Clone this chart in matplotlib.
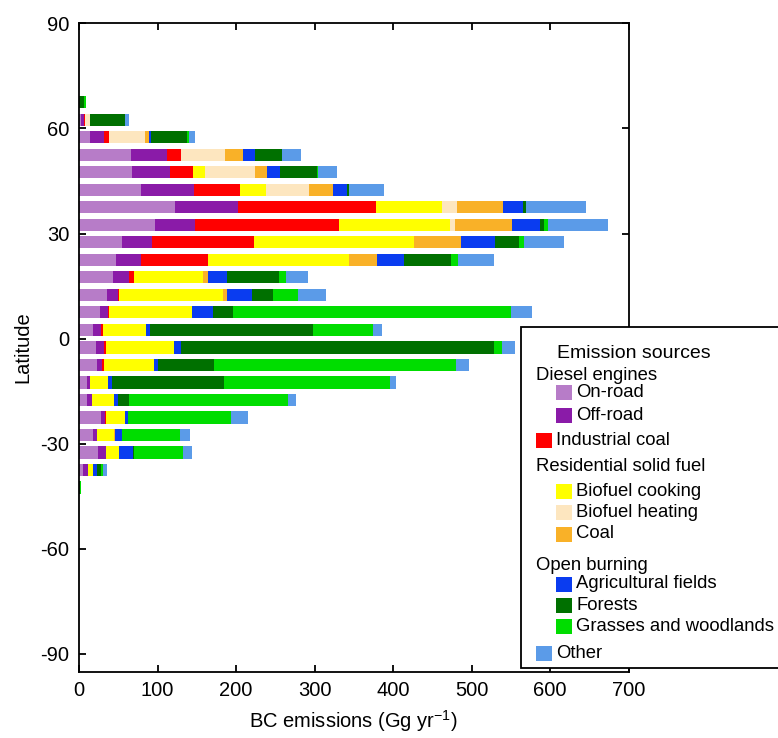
import matplotlib
matplotlib.use("Agg")
import matplotlib.pyplot as plt
from matplotlib.patches import Rectangle
import numpy as np

plt.rcParams["font.family"] = ["Liberation Sans", "DejaVu Sans"]
plt.rcParams["axes.unicode_minus"] = False
plt.rcParams["mathtext.fontset"] = "custom"
plt.rcParams["mathtext.rm"] = "Liberation Sans"
plt.rcParams["mathtext.it"] = "Liberation Sans"
plt.rcParams["mathtext.default"] = "regular"

# ── Data: BC emissions (Gg/yr) per 5-degree latitude band ─────────────────────
latitudes = [67.5, 62.5, 57.5, 52.5, 47.5, 42.5, 37.5, 32.5, 27.5, 22.5, 17.5,
             12.5, 7.5, 2.5, -2.5, -7.5, -12.5, -17.5, -22.5, -27.5, -32.5,
             -37.5, -42.5]

on_road = [0, 2, 14.6, 66.2, 67.5, 79.5, 122, 97, 54.3, 47.7, 43.2,
           36.3, 27.3, 18.2, 21.4, 22.4, 9.7, 10.6, 28.4, 18.2, 24.1, 5.5, 0]
off_road = [0, 5, 17.8, 46.5, 47.8, 67.5, 80, 50.3, 39.2, 31.8, 20.4,
            12.8, 10, 10.4, 10.4, 7.2, 4.3, 5.5, 4.6, 5.1, 9.8, 5.9, 0]
industrial_coal = [0, 1.2, 5.9, 17.3, 30.4, 58.5, 176, 183.5, 129.2, 85.4, 5.9,
                   2.2, 1.3, 1.8, 2.3, 2.1, 0, 0, 1.7, 0, 0, 0, 0]
biofuel_cooking = [0, 0, 0, 0, 14.4, 32.5, 84, 141.7, 204.6, 179, 88.6,
                   131.8, 105.9, 54.6, 86.3, 63.5, 23.3, 28.3, 23.7, 21, 17.3, 6.4, 0]
biofuel_heating = [0, 5.6, 46, 56.3, 64.7, 54.5, 20, 6.5, 0, 0, 0,
                   0, 0, 0, 0, 0, 0, 0, 0, 0, 0, 0, 0]
res_coal = [0, 0, 5.5, 22.9, 14.4, 31.5, 58, 72, 59.3, 36.3, 6.8,
            5.4, 0, 0, 0, 0, 0, 0, 0, 2, 0, 0, 0]
ag_fields = [0, 0, 1.7, 15.2, 17.4, 17, 26, 36.2, 42.7, 33.2, 23.6,
             31.8, 25.9, 5, 9.1, 5.1, 5, 5.1, 3.8, 7.9, 17.4, 5.5, 0]
forests = [7, 45, 45.7, 34.3, 46.1, 2.5, 3, 5, 31.7, 60.4, 65.9,
           27.3, 25.4, 207.6, 398.8, 72, 142.7, 14.8, 0, 1, 1.2, 5.1, 1.5]
grasses = [2.5, 0, 2.5, 0, 2.1, 0, 0, 5, 6, 9.1, 9.6,
           31.8, 353.9, 76.3, 10, 308.1, 210.8, 202.4, 131.2, 74, 62.7, 2.5, 0.5]
other = [0, 4.7, 8.5, 23.7, 23.7, 45.5, 77, 76.4, 51.3, 45.4, 28.1,
         35, 27.3, 12.7, 17.3, 17, 7.6, 9.7, 22.5, 12.7, 11.4, 5.1, 1]

source_names = ["On-road", "Off-road", "Industrial coal", "Biofuel cooking",
                "Biofuel heating", "Coal", "Agricultural fields", "Forests",
                "Grasses and woodlands", "Other"]
source_colors = ["#B77CC8", "#8A1BA8", "#FF0000", "#FFFF00", "#FDE6BF",
                 "#F9B128", "#0A3CF0", "#007000", "#00DD00", "#5B9BE8"]
series = [on_road, off_road, industrial_coal, biofuel_cooking, biofuel_heating,
          res_coal, ag_fields, forests, grasses, other]

W, H = 778, 738
fig = plt.figure(figsize=(W / 100, H / 100), dpi=100)
ax = fig.add_axes([79 / W, 1 - 671.5 / H, (628.5 - 79) / W, (671.5 - 23.3) / H])

# ── Stacked horizontal bars ───────────────────────────────────────────────────
left = np.zeros(len(latitudes))
for vals, col in zip(series, source_colors):
    vals = np.asarray(vals, dtype=float)
    ax.barh(latitudes, vals, left=left, height=3.5, color=col, linewidth=0)
    left += vals

ax.set_xlim(0, 700)
ax.set_ylim(-95, 90)
ax.set_xticks(range(0, 701, 100))
ax.set_yticks(range(-90, 91, 30))
ax.tick_params(direction="in", top=True, right=True, length=5, width=1.3,
               labelsize=14.5, pad=7)
for sp in ax.spines.values():
    sp.set_linewidth(1.3)

ax.set_xlabel("BC emissions (Gg yr$^{-1}$)", fontsize=14.5, labelpad=6)
ax.set_ylabel("Latitude", fontsize=14.5, labelpad=6)

# ── Hand-built grouped legend (figure pixel coordinates) ──────────────────────
def fx(x):
    return x / W


def fy(y):
    return 1 - y / H


fig.patches.append(Rectangle((fx(521), fy(668)), fx(800) - fx(521), fy(327.5) - fy(668),
                             transform=fig.transFigure, facecolor="white",
                             edgecolor="black", linewidth=1.3, zorder=5))

fs = 13.3
fig.text(fx(557), fy(353), "Emission sources", fontsize=14, va="center", zorder=6)

headers = [("Diesel engines", 375), ("Residential solid fuel", 466.7),
           ("Open burning", 565)]
for txt, y in headers:
    fig.text(fx(536.5), fy(y), txt, fontsize=fs, va="center", zorder=6)

# (index into sources, y centre, indented?)
entries = [(0, 392.3, True), (1, 415, True), (2, 440.7, False),
           (3, 491, True), (4, 512.7, True), (5, 534, True),
           (6, 584, True), (7, 605.7, True), (8, 626.7, True), (9, 653.3, False)]
for idx, y, indent in entries:
    x0 = 556 if indent else 536
    fig.patches.append(Rectangle((fx(x0), fy(y + 7.5)), fx(16), 15 / H,
                                 transform=fig.transFigure,
                                 facecolor=source_colors[idx], linewidth=0, zorder=6))
    fig.text(fx(x0 + 20), fy(y), source_names[idx], fontsize=fs, va="center", zorder=6)

fig.savefig("out.png", dpi=100, facecolor="white")
